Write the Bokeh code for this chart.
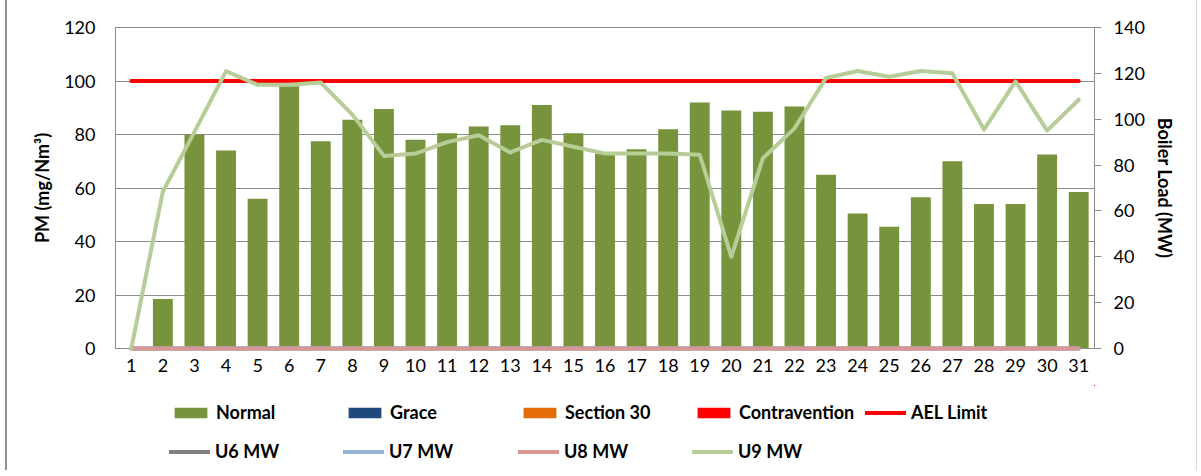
from bokeh.plotting import figure
from bokeh.layouts import column
from bokeh.models import Range1d, LinearAxis, FixedTicker, Legend, LegendItem
from bokeh.embed import file_html
from bokeh.resources import INLINE

# ---------------- data ----------------
days = list(range(1, 32))
day_labels = [str(d) for d in days]

normal_pm = [0, 18.5, 80, 74, 56, 98, 77.5, 85.5, 89.5, 78, 80.5, 83, 83.5, 91, 80.5,
             73, 74.5, 82, 92, 89, 88.5, 90.5, 65, 50.5, 45.5, 56.5, 70, 54, 54, 72.5, 58.5]
grace_pm = [0, 0, 0, 0, 0, 0, 0, 0, 0, 0, 0, 0, 0, 0, 0, 0, 0, 0, 0, 0, 0, 0, 0, 0, 0, 0, 0, 0, 0, 0, 0]
section30_pm = [0, 0, 0, 0, 0, 0, 0, 0, 0, 0, 0, 0, 0, 0, 0, 0, 0, 0, 0, 0, 0, 0, 0, 0, 0, 0, 0, 0, 0, 0, 0]
contravention_pm = [0, 0, 0, 0, 0, 0, 0, 0, 0, 0, 0, 0, 0, 0, 0, 0, 0, 0, 0, 0, 0, 0, 0, 0, 0, 0, 0, 0, 0, 0, 0]
ael_limit = 100

u6_mw = [0, 0, 0, 0, 0, 0, 0, 0, 0, 0, 0, 0, 0, 0, 0, 0, 0, 0, 0, 0, 0, 0, 0, 0, 0, 0, 0, 0, 0, 0, 0]
u7_mw = [0, 0, 0, 0, 0, 0, 0, 0, 0, 0, 0, 0, 0, 0, 0, 0, 0, 0, 0, 0, 0, 0, 0, 0, 0, 0, 0, 0, 0, 0, 0]
u8_mw = [0, 0, 0, 0, 0, 0, 0, 0, 0, 0, 0, 0, 0, 0, 0, 0, 0, 0, 0, 0, 0, 0, 0, 0, 0, 0, 0, 0, 0, 0, 0]
u9_mw = [0, 68.5, 94.5, 121, 115, 115, 116, 102, 84, 85, 90, 93, 85.5, 91, 88,
         85, 85, 85, 84.5, 40, 83, 96, 118, 121, 118.5, 121, 120, 95.5, 116.5, 95, 108.5]

pm_ticks = [0, 20, 40, 60, 80, 100, 120]
mw_ticks = [0, 20, 40, 60, 80, 100, 120, 140]

series_labels = ["Normal", "Grace", "Section 30", "Contravention", "AEL Limit",
                 "U6 MW", "U7 MW", "U8 MW", "U9 MW"]

# ---------------- styling ----------------
FONT = "Lato"
GRAY = "#8C8C8C"
OX = 7                      # canvas left edge on the page (margin + border)
W = 1192
H1, H2 = 385, 85
FRAME_L, FRAME_R, FRAME_T, FRAME_B = 115 - OX, 1094 - OX, 27, 348
BORDER_STYLE = {"margin-left": "5px", "border-left": "2px solid #8E8E8E",
                "border-right": "1px solid #DADADA"}

C_NORMAL, C_GRACE, C_S30, C_CONTRA = "#77933C", "#1F497D", "#E36C09", "#FF0000"
C_AEL, C_U6, C_U7, C_U8, C_U9 = "#FF0000", "#808080", "#95B3D7", "#D99694", "#B7CD97"

p = figure(width=W, height=H1, output_backend="svg", toolbar_location=None,
           x_range=Range1d(0.5, 31.5), y_range=Range1d(0, 120),
           min_border_left=FRAME_L, min_border_right=W - FRAME_R,
           min_border_top=FRAME_T, min_border_bottom=H1 - FRAME_B,
           y_axis_label="PM (mg/Nm³)")
p.styles = BORDER_STYLE
p.outline_line_color = GRAY
p.outline_line_width = 1
p.background_fill_color = "white"
p.border_fill_color = "white"
p.xgrid.visible = False
p.ygrid.grid_line_color = GRAY
p.ygrid.grid_line_width = 1

p.extra_y_ranges = {"mw": Range1d(0, 140)}

# x axis
xa = p.xaxis[0]
xa.ticker = FixedTicker(ticks=days)
xa.major_label_overrides = {d: s for d, s in zip(days, day_labels)}
xa.axis_line_color = GRAY
xa.major_tick_out = 0
xa.major_tick_in = 0
xa.minor_tick_out = 0
xa.minor_tick_in = 0
xa.major_label_standoff = 10
xa.major_label_text_font = FONT
xa.major_label_text_font_size = "18px"
xa.major_label_text_color = "black"

# left axis
ya = p.yaxis[0]
ya.ticker = FixedTicker(ticks=pm_ticks)
ya.axis_line_color = GRAY
ya.major_tick_out = 0
ya.major_tick_in = 0
ya.minor_tick_out = 0
ya.minor_tick_in = 0
ya.major_label_standoff = 20
ya.major_label_text_font = FONT
ya.major_label_text_font_size = "18px"
ya.major_label_text_color = "black"
ya.axis_label_text_font = FONT
ya.axis_label_text_font_size = "18px"
ya.axis_label_text_font_style = "bold"
ya.axis_label_text_color = "black"
ya.axis_label_standoff = 8

# right axis
ra = LinearAxis(y_range_name="mw", axis_label="Boiler Load (MW)",
                ticker=FixedTicker(ticks=mw_ticks))
ra.axis_line_color = GRAY
ra.major_tick_line_color = GRAY
ra.major_tick_out = 7
ra.major_tick_in = 0
ra.minor_tick_out = 0
ra.minor_tick_in = 0
ra.major_label_standoff = 12
ra.major_label_text_font = FONT
ra.major_label_text_font_size = "18px"
ra.major_label_text_color = "black"
ra.axis_label_text_font = FONT
ra.axis_label_text_font_size = "18px"
ra.axis_label_text_font_style = "bold"
ra.axis_label_text_color = "black"
ra.axis_label_standoff = 6
p.add_layout(ra, "right")


def draw_series(fig):
    """Draw all nine series on a figure; returns renderers in legend order."""
    rs = [
        fig.vbar(x=days, top=normal_pm, width=0.63, fill_color=C_NORMAL, line_color=None),
        fig.vbar(x=days, top=grace_pm, width=0.63, fill_color=C_GRACE, line_color=None),
        fig.vbar(x=days, top=section30_pm, width=0.63, fill_color=C_S30, line_color=None),
        fig.vbar(x=days, top=contravention_pm, width=0.63, fill_color=C_CONTRA, line_color=None),
        fig.line(x=[days[0], days[-1]], y=[ael_limit, ael_limit], line_color=C_AEL,
                 line_width=4, line_cap="round"),
        fig.line(x=days, y=u6_mw, y_range_name="mw", line_color=C_U6, line_width=4,
                 line_cap="round", level="overlay"),
        fig.line(x=days, y=u7_mw, y_range_name="mw", line_color=C_U7, line_width=4,
                 line_cap="round", level="overlay"),
        fig.line(x=days, y=u8_mw, y_range_name="mw", line_color=C_U8, line_width=4,
                 line_cap="round", level="overlay"),
        fig.line(x=days, y=u9_mw, y_range_name="mw", line_color=C_U9, line_width=4,
                 line_cap="round", line_join="round", level="overlay"),
    ]
    return rs


draw_series(p)

# ---------------- legend strip (separate figure so nothing is clipped) ----------------
# Its ranges are placed away from the data so the series only serve as legend swatches.
lp = figure(width=W, height=H2, output_backend="svg", toolbar_location=None,
            x_range=Range1d(-50, -49), y_range=Range1d(-50, -49),
            x_axis_type=None, y_axis_type=None, min_border=0)
lp.extra_y_ranges = {"mw": Range1d(-50, -49)}
lp.styles = BORDER_STYLE
lp.outline_line_color = None
lp.xgrid.visible = False
lp.ygrid.visible = False
lp.background_fill_color = "white"
lp.border_fill_color = "white"

legend_glyphs = draw_series(lp)

col_x = [170, 344, 519, 693, 865, 169, 343, 518, 692]
row_center = [413, 413, 413, 413, 413, 452, 452, 452, 452]
LABEL_H = 20
for lab, rend, cx, cy in zip(series_labels, legend_glyphs, col_x, row_center):
    vy = (H1 + H2) - (cy + LABEL_H / 2)
    leg = Legend(items=[LegendItem(label=lab, renderers=[rend])],
                 location=(cx - 115, vy), orientation="horizontal",
                 padding=0, margin=0, spacing=0,
                 glyph_width=41, glyph_height=13, label_standoff=5,
                 label_height=LABEL_H, label_width=20,
                 border_line_alpha=0, background_fill_alpha=0,
                 label_text_font=FONT, label_text_font_size="18px",
                 label_text_font_style="bold", label_text_color="black")
    lp.add_layout(leg)

layout = column(p, lp, spacing=0)
open("out.html", "w").write(file_html(layout, INLINE))
